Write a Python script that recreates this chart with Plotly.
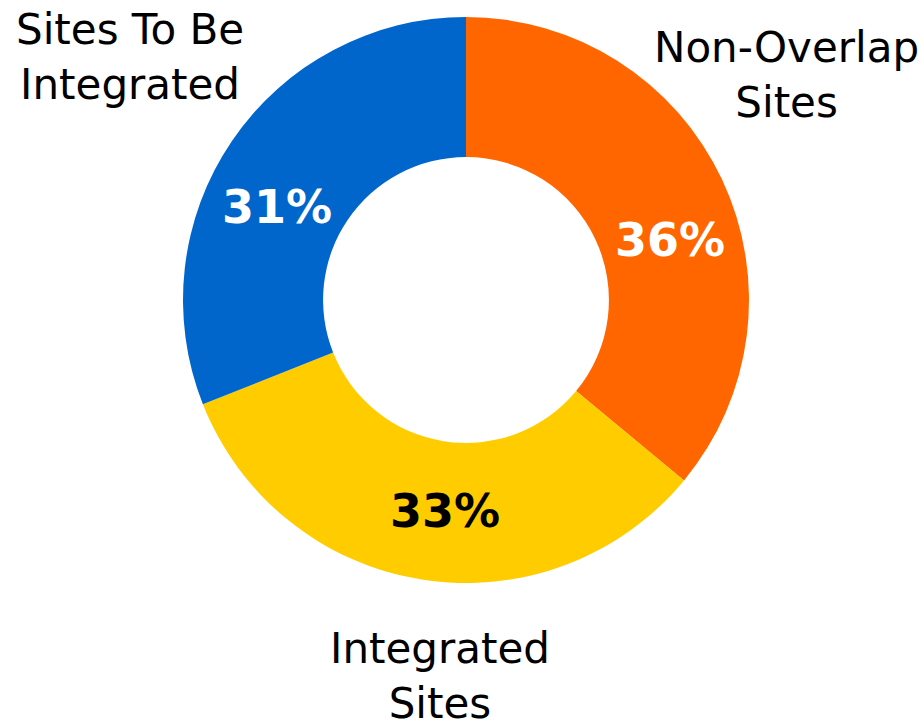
import plotly.graph_objects as go

# Share of sites by integration status
categories = ["Non-Overlap Sites", "Integrated Sites", "Sites To Be Integrated"]
shares = [36, 33, 31]
colors = ["#FF6600", "#FFCC00", "#0066CC"]
pct_text_colors = ["white", "black", "white"]

W, H = 922, 728
cx, cy, R = 466, 300, 283  # donut centre and outer radius in pixels

fig = go.Figure(
    go.Pie(
        labels=categories,
        values=shares,
        marker=dict(colors=colors, line=dict(width=0)),
        hole=0.505,
        sort=False,
        direction="clockwise",
        rotation=0,
        textinfo="none",
        hoverinfo="label+percent",
        domain=dict(
            x=[(cx - R) / W, (cx + R) / W],
            y=[(H - cy - R) / H, (H - cy + R) / H],
        ),
        showlegend=False,
    )
)

FONT = "DejaVu Sans"

def px(x, y):
    return x / W, (H - y) / H

# percentage labels inside the ring
pct_pos = [(670, 240), (445, 511), (277, 207)]
for v, (x, y), c in zip(shares, pct_pos, pct_text_colors):
    ax, ay = px(x, y)
    fig.add_annotation(
        x=ax, y=ay, xref="paper", yref="paper", showarrow=False,
        text=f"<b>{v}%</b>", font=dict(family=FONT, size=46, color=c),
        xanchor="center", yanchor="middle",
    )

# category labels around the ring
cat_pos = [(786, 75), (440, 676), (130, 57)]
cat_text = ["Non-Overlap<br>Sites", "Integrated<br>Sites", "Sites To Be<br>Integrated"]
for t, (x, y) in zip(cat_text, cat_pos):
    ax, ay = px(x, y)
    fig.add_annotation(
        x=ax, y=ay, xref="paper", yref="paper", showarrow=False,
        text=t, font=dict(family=FONT, size=42, color="black"),
        xanchor="center", yanchor="middle", align="center",
    )

fig.update_layout(
    width=W, height=H,
    margin=dict(l=0, r=0, t=0, b=0),
    paper_bgcolor="white", plot_bgcolor="white",
)

fig.write_html("out.html")
